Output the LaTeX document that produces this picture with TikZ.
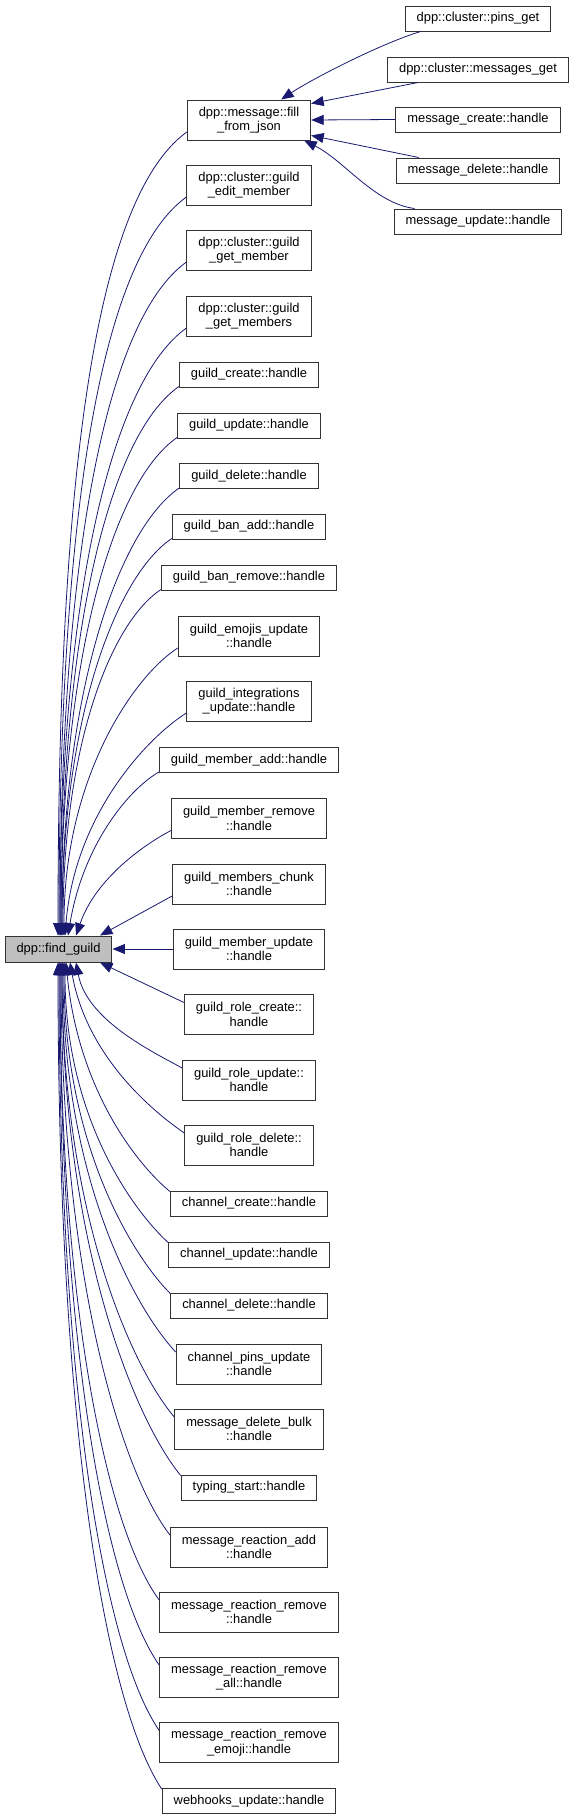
\documentclass[tikz,border=0pt]{standalone}
\usepackage{fontspec}
\setmainfont{Liberation Sans}
\usetikzlibrary{arrows.meta}
\definecolor{midnight}{HTML}{191970}
\definecolor{boxgray}{HTML}{BFBFBF}

\begin{document}
\begin{tikzpicture}[x=1pt, y=-1pt, thick,
    main/.style = {draw=black!80, line width=1pt, rectangle, align=center, inner xsep=11.5pt, inner ysep=0pt, minimum height=25pt, font=\fontsize{12.9}{14.5}\selectfont},
    twoline/.style = {main, minimum height=40pt},
    call/.style = {draw=midnight, line width=0.8pt, {Triangle[length=12.5pt, width=10pt]}-}]
    \useasboundingbox (0,0) rectangle (575,1820);
    \node[main, fill=boxgray, minimum height=26pt] (0) at (58.5,949) {dpp::find\_guild};
    % callers of find_guild
    \node[twoline] (1) at (249,120) {dpp::message::fill\\\_from\_json};
    \node[twoline] (2) at (249,185) {dpp::cluster::guild\\\_edit\_member};
    \node[twoline] (3) at (249,250) {dpp::cluster::guild\\\_get\_member};
    \node[twoline] (4) at (249,316) {dpp::cluster::guild\\\_get\_members};
    \node[main] (5) at (249,374.5) {guild\_create::handle};
    \node[main] (6) at (249,425.5) {guild\_update::handle};
    \node[main] (7) at (249,476) {guild\_delete::handle};
    \node[main] (8) at (249,526.5) {guild\_ban\_add::handle};
    \node[main] (9) at (249,577.5) {guild\_ban\_remove::handle};
    \node[twoline] (10) at (249,636) {guild\_emojis\_update\\::handle};
    \node[twoline] (11) at (249,701) {guild\_integrations\\\_update::handle};
    \node[main] (12) at (249,760) {guild\_member\_add::handle};
    \node[twoline] (13) at (249,818.5) {guild\_member\_remove\\::handle};
    \node[twoline] (14) at (249,884) {guild\_members\_chunk\\::handle};
    \node[twoline] (15) at (249,949) {guild\_member\_update\\::handle};
    \node[twoline] (16) at (249,1014.5) {guild\_role\_create::\\handle};
    \node[twoline] (17) at (249,1080) {guild\_role\_update::\\handle};
    \node[twoline] (18) at (249,1145) {guild\_role\_delete::\\handle};
    \node[main] (19) at (249,1203.5) {channel\_create::handle};
    \node[main] (20) at (249,1254.5) {channel\_update::handle};
    \node[main] (21) at (249,1305.5) {channel\_delete::handle};
    \node[twoline] (22) at (249,1364) {channel\_pins\_update\\::handle};
    \node[twoline] (23) at (249,1429) {message\_delete\_bulk\\::handle};
    \node[main] (24) at (249,1487.5) {typing\_start::handle};
    \node[twoline] (25) at (249,1547) {message\_reaction\_add\\::handle};
    \node[twoline] (26) at (249,1612) {message\_reaction\_remove\\::handle};
    \node[twoline] (27) at (249,1677) {message\_reaction\_remove\\\_all::handle};
    \node[twoline] (28) at (249,1742.5) {message\_reaction\_remove\\\_emoji::handle};
    \node[main] (29) at (249,1801) {webhooks\_update::handle};
    % callers of fill_from_json
    \node[main] (30) at (478,18.5) {dpp::cluster::pins\_get};
    \node[main] (31) at (478,69.5) {dpp::cluster::messages\_get};
    \node[main] (32) at (478,119.5) {message\_create::handle};
    \node[main] (33) at (478,170.5) {message\_delete::handle};
    \node[main] (34) at (478,221.5) {message\_update::handle};
    % edges from above
    \draw[call] ([xshift=-0.5pt]0.north) .. controls +(0,-442) and +(-95,69) .. ([yshift=-12pt]1.west);
    \draw[call] ([xshift=0.5pt]0.north) .. controls +(0,-406) and +(-89,64) .. ([yshift=-12pt]2.west);
    \draw[call] ([xshift=1.5pt]0.north) .. controls +(0,-371) and +(-82,59) .. ([yshift=-12pt]3.west);
    \draw[call] ([xshift=1.5pt]0.north) .. controls +(0,-334) and +(-76,54) .. ([yshift=-12pt]4.west);
    \draw[call] ([xshift=2.5pt]0.north) .. controls +(0,-302) and +(-70,49) .. ([yshift=-12pt]5.west);
    \draw[call] ([xshift=2.5pt]0.north) .. controls +(0,-274) and +(-65,45) .. ([yshift=-12pt]6.west);
    \draw[call] ([xshift=3.5pt]0.north) .. controls +(0,-246) and +(-60,41) .. ([yshift=-12pt]7.west);
    \draw[call] ([xshift=3.5pt]0.north) .. controls +(0,-219) and +(-55,37) .. ([yshift=-12pt]8.west);
    \draw[call] ([xshift=4.5pt]0.north) .. controls +(0,-191) and +(-50,33) .. ([yshift=-12pt]9.west);
    \draw[call] ([xshift=5.5pt]0.north) .. controls +(0,-158) and +(-44,28) .. ([yshift=-12pt]10.west);
    \draw[call] ([xshift=6.5pt]0.north) .. controls +(10,-123) and +(-37,23) .. ([yshift=-12pt]11.west);
    \draw[call] ([xshift=9.5pt]0.north) .. controls +(15,-90) and +(-31,18) .. ([yshift=-12pt]12.west);
    \draw[call] ([xshift=17.5pt]0.north) .. controls +(20,-58) and +(-25,13) .. ([yshift=-12pt]13.west);
    \draw[call] ([xshift=41.5pt]0.north) -- ([yshift=-12pt]14.west);
    \draw[call] (0.east) -- (15.west);
    % edges from below
    \draw[call] ([xshift=41.5pt]0.south) -- ([yshift=12pt]16.west);
    \draw[call] ([xshift=17.5pt]0.south) .. controls +(11,58) and +(-29,-16) .. ([yshift=12pt]17.west);
    \draw[call] ([xshift=11.5pt]0.south) .. controls +(17,94) and +(-32,-22) .. ([yshift=12pt]18.west);
    \draw[call] ([xshift=7.5pt]0.south) .. controls +(12,126) and +(-34,-28) .. ([yshift=12pt]19.west);
    \draw[call] ([xshift=6.5pt]0.south) .. controls +(0,154) and +(-36,-33) .. ([yshift=12pt]20.west);
    \draw[call] ([xshift=5.5pt]0.south) .. controls +(0,182) and +(-38,-38) .. ([yshift=12pt]21.west);
    \draw[call] ([xshift=4.5pt]0.south) .. controls +(0,215) and +(-41,-44) .. ([yshift=12pt]22.west);
    \draw[call] ([xshift=3.5pt]0.south) .. controls +(0,250) and +(-43,-51) .. ([yshift=12pt]23.west);
    \draw[call] ([xshift=3.5pt]0.south) .. controls +(0,282) and +(-46,-56) .. ([yshift=12pt]24.west);
    \draw[call] ([xshift=2.5pt]0.south) .. controls +(0,315) and +(-48,-62) .. ([yshift=12pt]25.west);
    \draw[call] ([xshift=1.5pt]0.south) .. controls +(0,351) and +(-51,-69) .. ([yshift=12pt]26.west);
    \draw[call] ([xshift=1.5pt]0.south) .. controls +(0,387) and +(-53,-75) .. ([yshift=12pt]27.west);
    \draw[call] ([xshift=0.5pt]0.south) .. controls +(0,423) and +(-56,-82) .. ([yshift=12pt]28.west);
    \draw[call] ([xshift=-0.5pt]0.south) .. controls +(0,455) and +(-58,-88) .. ([yshift=12pt]29.west);
    % edges into fill_from_json
    \draw[call] ([xshift=-30pt]1.north east) .. controls +(30,-20) and +(-40,12) .. ([xshift=16pt]30.south west);
    \draw[call] ([yshift=-4pt]1.north east) -- ([xshift=31pt]31.south west);
    \draw[call] (1.east) -- (32.west);
    \draw[call] ([yshift=5pt]1.south east) -- ([xshift=23pt]33.north west);
    \draw[call] ([xshift=-7pt]1.south east) .. controls +(40,20) and +(-40,-5) .. ([xshift=21pt]34.north west);
\end{tikzpicture}
\end{document}
